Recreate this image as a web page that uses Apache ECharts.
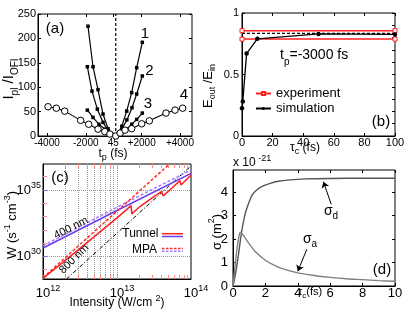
<!DOCTYPE html>
<html><head><meta charset="utf-8">
<script src="https://cdn.jsdelivr.net/npm/echarts@6/dist/echarts.min.js"></script>
<style>html,body{margin:0;padding:0;background:#fff}#c{width:416px;height:317px}</style>
</head><body><div id="c"></div>
<script>
// ---------- Panel (a): I_pl / I_OFI vs t_p ----------
const aTickPos  = [-4000, -1720, -100, 1570, 3820];
const aTickText = ['-4000', '-2000', '45', '+2000', '+4000'];
const aCurve1 = [[-1590,225],[-1294,142],[-1000,95],[-706,45],[-412,15],[-200,4],[45,0],[200,6],[400,20],[688,51],[982,89],[1276,140],[1606,192]];
const aCurve2 = [[-1627,142],[-1353,92],[-1039,55],[-706,28],[-400,11],[-200,3],[45,0],[200,4],[400,14],[700,33],[1000,58],[1276,86],[1606,123]];
const aCurve3 = [[-1627,53],[-1294,38],[-941,24],[-606,14],[-350,6],[-150,2],[45,0],[200,2],[400,6],[688,14],[982,24],[1276,34],[1606,47]];
const aCurve4 = [[-3940,60],[-3450,57],[-2960,51],[-2020,32],[-1550,24],[-1000,14],[-600,9],[-300,4],[45,0],[300,6],[590,12],[980,15],[1570,25],[2020,31],[3000,47],[3530,53],[3980,57]];
const aCenter = 45;
const aYRange = [0, 250];

// ---------- Panel (b): E_out/E_in vs tau_c ----------
const bExpHigh = [[0,0.856],[100,0.856]];
const bExpLow  = [[0,0.788],[100,0.788]];
const bDashed  = [[0,0.834],[100,0.834]];
const bSim     = [[0,0.226],[0.5,0.28],[3,0.67],[10,0.79],[50,0.83],[100,0.826]];

// ---------- Panel (c): W vs intensity (log10 values) ----------
const cTun800I = [12, 12.5, 13.0, 13.19, 13.2, 13.31, 13.47, 13.6, 13.625, 13.74, 13.85, 13.865, 14.0];
const cTun800W = [28.35, 30.6, 32.9, 33.82, 33.2, 33.75, 34.38, 34.87, 34.55, 35.13, 35.7, 35.37, 36.12];
const cMpa800I = [12, 13.71];
const cMpa800W = [28.4, 36.95];
const cTun400I = [12, 13, 14];
const cTun400W = [30.63, 33.45, 36.25];
const cMpa400I = [12, 13, 14];
const cMpa400W = [30.8, 33.7, 36.5];
const cRefI = [12.317, 14];
const cRefW = [28.3, 36.8];
const cXTicks = [12, 13, 14];
const cYTicks = [30, 35];

// ---------- Panel (d): sigma vs tau_c ----------
const dSigD = [[0,0],[0.15,0.5],[0.33,1.3],[0.53,2.3],[0.76,3.1],[1.0,3.6],[1.2,3.9],[1.5,4.12],[1.8,4.25],[2.3,4.38],[2.8,4.47],[3.5,4.53],[4.5,4.57],[6,4.59],[8,4.6],[10,4.6]];
const dSigA = [[0,0],[0.12,0.8],[0.25,1.6],[0.35,2.05],[0.45,2.3],[0.6,2.2],[0.8,2.0],[1.0,1.8],[1.4,1.45],[2.0,1.1],[2.5,0.9],[3.0,0.75],[4.0,0.56],[5.0,0.45],[6.0,0.37],[7.0,0.31],[8.0,0.27],[9.0,0.23],[10,0.2]];
const dYTicks = [0,1,2,3,4];

const F = '"Liberation Sans", Arial, sans-serif';
const zip = (xs, ys) => xs.map((x, i) => [x, ys[i]]);
const AL = {show:true, onZero:false, lineStyle:{color:'#000', width:1}};
const NL = {show:false, onZero:false};
const tick = (extra) => Object.assign({show:true, inside:true, length:3, lineStyle:{color:'#000'}}, extra||{});
const lab = (extra) => Object.assign({color:'#000', fontFamily:F, fontSize:11, margin:2}, extra||{});
const powRich = {
  b:{fontSize:13, fontFamily:F, color:'#000', lineHeight:18},
  s:{fontSize:9, fontFamily:F, color:'#000', verticalAlign:'top'}
};
const pow = v => '{b|10}{s|' + Math.round(v) + '}';
const minorA = [2,3,4,5,6,7,8,9].map(k => 12 + Math.log10(k)).concat([13]);
const minorB = [2,3,4,5,6,7,8,9].map(k => 13 + Math.log10(k));
const pink = '#ff8c8c', tickBlue = '#7b68ee';

function richT(size, sub, lh) {
  lh = lh || Math.round(size * 1.45);
  return {
    m:{fontSize:size, fontFamily:F, fill:'#000', color:'#000', lineHeight:lh},
    s:{fontSize:sub, fontFamily:F, fill:'#000', color:'#000', verticalAlign:'bottom'},
    p:{fontSize:sub, fontFamily:F, fill:'#000', color:'#000', verticalAlign:'top'}
  };
}
function T(x, y, text, size, sub, opt) {
  opt = opt || {};
  return {
    type:'text', x:x, y:y, rotation:opt.rot || 0, z:100, silent:true,
    style:{text:text, rich:richT(size, sub || Math.round(size*0.7), opt.lh), align:opt.align || 'center', verticalAlign:'middle', fill:'#000', fontFamily:F, fontSize:size}
  };
}
function Lg(x1, y, x2, color, dash) {
  return {type:'line', z:100, silent:true, shape:{x1:x1, y1:y, x2:x2, y2:y}, style:{stroke:color, lineWidth:1.5, lineDash: dash || null}};
}
const aLabel = v => { const i = aTickPos.findIndex(p => Math.abs(p - v) < 1); return i >= 0 ? aTickText[i] : ''; };
const mirrorX = (g, min, max, extra) => Object.assign({gridIndex:g, type:'value', position:'top', min:min, max:max,
  axisLine:NL, axisLabel:{show:false}, splitLine:{show:false}, axisTick:tick()}, extra||{});
const mirrorY = (g, min, max, extra) => Object.assign({gridIndex:g, type:'value', position:'right', min:min, max:max,
  axisLine:NL, axisLabel:{show:false}, splitLine:{show:false}, axisTick:tick()}, extra||{});

const gridBase = {show:true, borderColor:'#000', borderWidth:1, backgroundColor:'transparent', containLabel:false, outerBoundsMode:'none'};

const option = {
  animation:false,
  backgroundColor:'#fff',
  textStyle:{fontFamily:F},
  grid:[
    Object.assign({left:38, top:14, width:154, height:122}, gridBase),
    Object.assign({left:242, top:13, width:153, height:123}, gridBase),
    Object.assign({left:43, top:164, width:148, height:115}, gridBase),
    Object.assign({left:233, top:170, width:162, height:116}, gridBase)
  ],
  legend:{
    data:['experiment','simulation'], orient:'vertical', left:255, top:87,
    itemWidth:15, itemHeight:4, itemGap:2, padding:0,
    textStyle:{fontSize:13, fontFamily:F, color:'#000'}, selectedMode:false
  },
  xAxis:[
    {gridIndex:0, type:'value', min:-4530, max:4530, axisLine:AL,
     axisTick:tick({customValues:aTickPos}),
     axisLabel:lab({customValues:aTickPos, formatter:aLabel, fontSize:10, margin:2}), splitLine:{show:false}},
    {gridIndex:1, type:'value', min:0, max:100, interval:20, axisLine:AL, axisTick:tick(),
     axisLabel:lab({margin:1}), splitLine:{show:false}},
    {gridIndex:2, type:'value', min:12, max:14, axisLine:AL,
     axisTick:tick({customValues:cXTicks, length:4, lineStyle:{color:tickBlue}}),
     axisLabel:lab({customValues:cXTicks, formatter:pow, rich:powRich, margin:5, padding:[0,0,0,10]}), splitLine:{show:false}},
    {gridIndex:3, type:'value', min:0, max:10, interval:2, axisLine:AL, axisTick:tick(),
     axisLabel:lab({fontSize:13, margin:1}), splitLine:{show:false}},
    {gridIndex:2, type:'value', position:'bottom', min:12, max:14, axisLine:NL,
     axisTick:tick({customValues:minorA, length:4, lineStyle:{color:pink}}), axisLabel:{show:false},
     splitLine:{show:true, lineStyle:{type:'dotted', color:'#9a9a9a', width:1}}},
    {gridIndex:2, type:'value', position:'bottom', min:12, max:14, axisLine:NL,
     axisTick:tick({customValues:minorB, length:4, lineStyle:{color:pink}}), axisLabel:{show:false},
     splitLine:{show:false}},
    mirrorX(0, -4530, 4530, {axisTick:tick({customValues:aTickPos})}),
    mirrorX(1, 0, 100, {interval:20}),
    mirrorX(3, 0, 10, {interval:2}),
    mirrorX(2, 12, 14, {axisTick:tick({customValues:minorA.concat(minorB), length:4, lineStyle:{color:pink}})})
  ],
  yAxis:[
    {gridIndex:0, type:'value', min:aYRange[0], max:aYRange[1], interval:50, axisLine:AL, axisTick:tick(),
     axisLabel:lab({margin:2}), splitLine:{show:false}},
    {gridIndex:1, type:'value', min:0, max:1, interval:0.5, axisLine:AL, axisTick:tick(),
     axisLabel:lab({margin:3}), splitLine:{show:false}},
    {gridIndex:2, type:'value', min:28.3, max:36.95, axisLine:AL,
     axisTick:tick({customValues:cYTicks, length:4, lineStyle:{color:tickBlue}}),
     axisLabel:lab({customValues:cYTicks, formatter:pow, rich:powRich, margin:2}),
     splitLine:{show:true, lineStyle:{type:'dotted', color:'#9a9a9a', width:1}}},
    {gridIndex:3, type:'value', min:0, max:4.95, axisLine:AL,
     axisTick:tick({customValues:dYTicks}),
     axisLabel:lab({customValues:dYTicks, fontSize:13, margin:5}), splitLine:{show:false}},
    {gridIndex:2, type:'value', position:'left', min:28.3, max:36.95, axisLine:NL,
     axisTick:tick({customValues:[29,31,32,33,34,36], length:4, lineStyle:{color:pink}}),
     axisLabel:{show:false}, splitLine:{show:false}},
    mirrorY(0, 0, 250, {interval:50}),
    mirrorY(1, 0, 1, {interval:0.1}),
    mirrorY(3, 0, 4.95, {axisTick:tick({customValues:dYTicks})})
  ],
  series:[
    // (a) vertical dashed line at t_p = 45 fs
    {type:'line', xAxisIndex:0, yAxisIndex:0, data:[[aCenter, aYRange[0]],[aCenter, aYRange[1]]], symbol:'none',
     lineStyle:{width:1.2, color:'#000', type:[3,2]}, z:1},
    {type:'line', xAxisIndex:0, yAxisIndex:0, data:aCurve1, symbol:'rect', symbolSize:3.5, color:'#000', lineStyle:{width:1.2, color:'#000'}},
    {type:'line', xAxisIndex:0, yAxisIndex:0, data:aCurve2, symbol:'rect', symbolSize:3.5, color:'#000', lineStyle:{width:1.2, color:'#000'}},
    {type:'line', xAxisIndex:0, yAxisIndex:0, data:aCurve3, symbol:'rect', symbolSize:3.5, color:'#000', lineStyle:{width:1.2, color:'#000'}},
    {type:'line', xAxisIndex:0, yAxisIndex:0, data:aCurve4, symbol:'circle', symbolSize:6.5, color:'#000',
     itemStyle:{color:'#fff', borderColor:'#000', borderWidth:1}, lineStyle:{width:1.1, color:'#000'}},
    // (b)
    {name:'experiment', type:'line', xAxisIndex:1, yAxisIndex:1, data:bExpHigh, symbol:'rect', symbolSize:4, color:'#ff2020', lineStyle:{width:1.5, color:'#ff2020'}, itemStyle:{color:'#fff', borderColor:'#ff2020', borderWidth:1}},
    {name:'experiment', type:'line', xAxisIndex:1, yAxisIndex:1, data:bExpLow, symbol:'rect', symbolSize:4, color:'#ff2020', lineStyle:{width:1.5, color:'#ff2020'}, itemStyle:{color:'#fff', borderColor:'#ff2020', borderWidth:1}},
    {type:'line', xAxisIndex:1, yAxisIndex:1, data:bDashed, symbol:'none', lineStyle:{width:1.2, color:'#000', type:[3,2]}},
    {name:'simulation', type:'line', xAxisIndex:1, yAxisIndex:1, data:bSim, symbol:'circle', symbolSize:4.5, color:'#000', lineStyle:{width:1.3, color:'#000'}},
    // (c)
    {type:'line', xAxisIndex:2, yAxisIndex:2, data:zip(cRefI, cRefW), symbol:'none', lineStyle:{width:1, color:'#000', type:[4,2,1,2]}},
    {type:'line', xAxisIndex:2, yAxisIndex:2, data:zip(cMpa400I, cMpa400W), symbol:'none', lineStyle:{width:1.5, color:'#a47cff', type:[3,2]}},
    {type:'line', xAxisIndex:2, yAxisIndex:2, data:zip(cTun400I, cTun400W), symbol:'none', lineStyle:{width:1.5, color:'#6a3cf0'}},
    {type:'line', xAxisIndex:2, yAxisIndex:2, data:zip(cMpa800I, cMpa800W), symbol:'none', lineStyle:{width:1.5, color:'#ff2a2a', type:[3,2]}},
    {type:'line', xAxisIndex:2, yAxisIndex:2, data:zip(cTun800I, cTun800W), symbol:'none', lineStyle:{width:1.5, color:'#ff2020'}},
    // (d)
    {type:'line', xAxisIndex:3, yAxisIndex:3, data:dSigD, symbol:'none', smooth:0.3, lineStyle:{width:1.4, color:'#555'},
     markLine:{silent:true, symbol:['none','arrow'], symbolSize:6, label:{show:false}, lineStyle:{type:'solid', color:'#000', width:1},
       data:[[{coord:[6.06,3.49]},{coord:[5.58,4.45]}],[{coord:[4.56,1.57]},{coord:[4.0,0.63]}]]}},
    {type:'line', xAxisIndex:3, yAxisIndex:3, data:dSigA, symbol:'none', smooth:0.3, lineStyle:{width:1.4, color:'#808080'}}
  ],
  graphic:[
    // (a)
    T(9, 79, '{m|I}{s|pl}{m| /I}{s|OFI}', 15, 10, {rot:Math.PI/2}),
    T(113, 154, '{m|t}{s|p}{m| (fs)}', 12, 9),
    T(55, 29, '{m|(a)}', 15),
    T(145, 34, '{m|1}', 15), T(149.5, 71, '{m|2}', 15), T(148, 104, '{m|3}', 15), T(184, 95, '{m|4}', 15),
    // (b)
    T(208, 86, '{m|E}{s|out}{m| /E}{s|in}', 13, 9, {rot:Math.PI/2}),
    T(305, 148, '{m|τ}{s|c}{m| (fs)}', 12, 9),
    T(280, 55, '{m|t}{s|p}{m|=-3000 fs}', 14, 10, {align:'left', lh:24}),
    T(381, 122, '{m|(b)}', 15),
    // (c)
    T(12.5, 225, '{m|W (s}{p|-1}{m| cm}{p|-3}{m|)}', 13, 9, {rot:Math.PI/2}),
    T(117, 303, '{m|Intensity (W/cm }{p|2}{m|)}', 12, 9),
    T(60, 178, '{m|(c)}', 15),
    T(71, 228, '{m|400 nm}', 11, 8, {rot:0.47}),
    T(74, 259, '{m|800 nm}', 11, 8, {rot:0.785}),
    T(158.5, 234, '{m|Tunnel}', 12, 8, {align:'right'}),
    T(157, 249.5, '{m|MPA}', 12, 8, {align:'right'}),
    Lg(162, 233.7, 183, '#ff2020'), Lg(162, 236.5, 183, '#6a3cf0'),
    Lg(162, 248.5, 183, '#ff2a2a', [2.5,1.5]), Lg(162, 251.3, 183, '#a47cff', [2.5,1.5]),
    // (d)
    T(233, 163, '{m|x 10}{p| -21}', 12, 9, {align:'left'}),
    T(217, 232, '{m|σ (m}{p|2}{m|)}', 13, 9, {rot:Math.PI/2}),
    T(310, 292, '{m|τ}{s|c}{m|(fs)}', 11, 8),
    T(331, 211, '{m|σ}{s|d}', 14, 10),
    T(310, 239, '{m|σ}{s|a}', 14, 10),
    T(382, 270, '{m|(d)}', 15)
  ]
};
const chart = echarts.init(document.getElementById('c'), null, {renderer:'canvas'});
chart.setOption(option);
</script>
</body></html>
